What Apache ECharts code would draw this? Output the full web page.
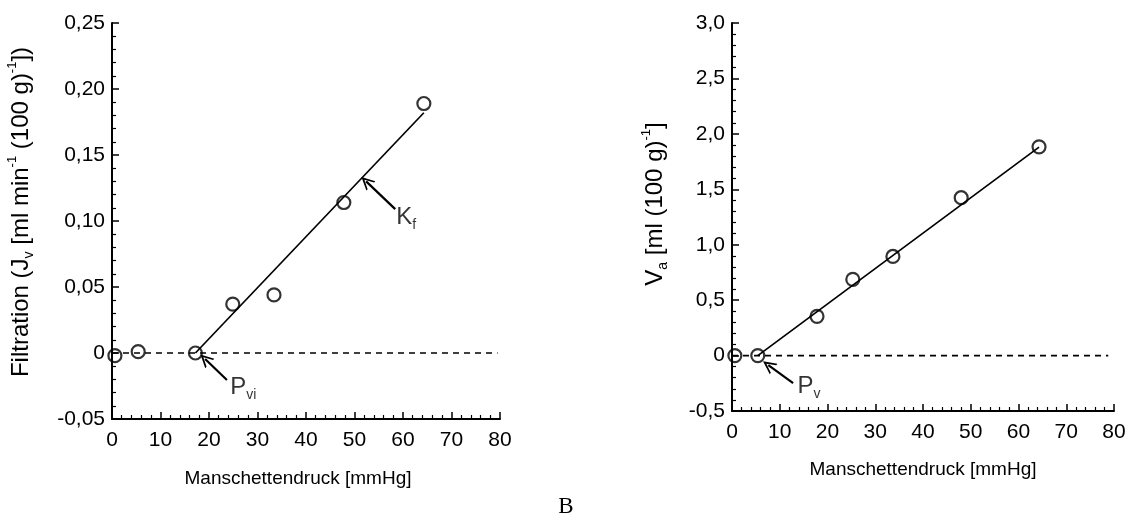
<!DOCTYPE html>
<html>
<head>
<meta charset="utf-8">
<script src="https://cdn.jsdelivr.net/npm/echarts@6/dist/echarts.min.js"></script>
<style>
html,body{margin:0;padding:0;background:#fff;}
#chart{width:1132px;height:523px;}
</style>
</head>
<body>
<div id="chart"></div>
<script>
// ---- data ----
const cuffPressureLeft  = [0.6, 5.4, 17.2, 24.9, 33.4, 47.8, 64.3];
const filtration        = [-0.002, 0.001, 0.0, 0.037, 0.044, 0.114, 0.189];
const cuffPressureRight = [0.6, 5.4, 17.8, 25.3, 33.7, 48.0, 64.3];
const volumeVa          = [0.0, 0.0, 0.354, 0.687, 0.894, 1.424, 1.883];
const fitLeftX  = [17.2, 64.3];
const fitLeftY  = [0.0, 0.182];
const fitRightX = [5.4, 64.3];
const fitRightY = [0.0, 1.88];
const zeroLeftX  = [0, 79.5];
const zeroRightX = [0, 78.8];

const xTickLabels      = ['0','10','20','30','40','50','60','70','80'];
const yTickLabelsLeft  = ['-0,05','0','0,05','0,10','0,15','0,20','0,25'];
const yTickLabelsRight = ['-0,5','0','0,5','1,0','1,5','2,0','2,5','3,0'];

// annotation arrows (tail -> tip) and labels, in data units
const arrowKf  = [[58.4, 0.109], [52.4, 0.130]];
const labelKf  = [58.6, 0.103];
const arrowPvi = [[23.7, -0.0205], [19.2, -0.0045]];
const labelPvi = [24.4, -0.026];
const arrowPv  = [[12.8, -0.248], [7.6, -0.086]];
const labelPv  = [13.7, -0.275];

const FONT = 'Liberation Sans, Arial, sans-serif';
const pairs = (xs, ys) => xs.map((x, i) => [x, ys[i]]);

function xAxisCfg(grid) {
  return {
    type: 'value', gridIndex: grid, min: 0, max: 80, interval: 10,
    axisLine: { show: true, onZero: false, lineStyle: { color: '#000', width: 2 } },
    axisTick: { show: true, inside: true, length: 7, lineStyle: { color: '#000', width: 1.5 } },
    minorTick: { show: true, splitNumber: 5, length: 4, lineStyle: { color: '#000', width: 1.2 } },
    splitLine: { show: false },
    axisLabel: { color: '#000', fontSize: 21, fontFamily: FONT, margin: 11,
      formatter: (v, i) => xTickLabels[i] }
  };
}
function yAxisCfg(grid, min, max, interval, labels) {
  return {
    type: 'value', gridIndex: grid, min: min, max: max, interval: interval,
    axisLine: { show: true, onZero: false, lineStyle: { color: '#000', width: 2 } },
    axisTick: { show: true, inside: true, length: 7, lineStyle: { color: '#000', width: 1.5 } },
    minorTick: { show: true, splitNumber: 5, length: 4, lineStyle: { color: '#000', width: 1.2 } },
    splitLine: { show: false },
    axisLabel: { color: '#000', fontSize: 21, fontFamily: FONT, margin: 7,
      formatter: (v, i) => labels[i] }
  };
}

const circleStyle = { color: 'rgba(0,0,0,0)', borderColor: '#000', borderWidth: 2.2 };
const arrowPath = 'path://M0,12 L6,0 L12,12 L10.3,12 L6,3.8 L1.7,12 Z';

function arrowSeries(xi, yi, coords) {
  return {
    type: 'lines', coordinateSystem: 'cartesian2d', xAxisIndex: xi, yAxisIndex: yi,
    symbol: ['none', arrowPath], symbolSize: 13,
    lineStyle: { color: '#000', width: 2.2, opacity: 1 },
    itemStyle: { color: '#000' },
    data: [{ coords: coords }], silent: true, z: 5
  };
}
function labelSeries(xi, yi, pos, main, sub) {
  return {
    type: 'scatter', xAxisIndex: xi, yAxisIndex: yi, symbolSize: 0, silent: true,
    data: [pos],
    label: { show: true, position: 'inside', align: 'left', verticalAlign: 'middle',
      formatter: '{m|' + main + '}{s|' + sub + '}',
      rich: {
        m: { fontSize: 24, fontFamily: FONT, color: '#000', lineHeight: 30, verticalAlign: 'middle' },
        s: { fontSize: 14, fontFamily: FONT, color: '#000', lineHeight: 13, verticalAlign: 'bottom' }
      } }
  };
}

const richName = {
  b: { fontSize: 24, fontFamily: FONT, fill: '#000', color: '#000', lineHeight: 30, verticalAlign: 'middle' },
  sb: { fontSize: 14, fontFamily: FONT, fill: '#000', color: '#000', lineHeight: 14, verticalAlign: 'bottom' },
  sp: { fontSize: 13, fontFamily: FONT, fill: '#000', color: '#000', lineHeight: 13, verticalAlign: 'top' }
};

const chart = echarts.init(document.getElementById('chart'), null, { renderer: 'canvas' });
chart.setOption({
  backgroundColor: '#fff',
  animation: false,
  grid: [
    { left: 112, top: 23, width: 388, height: 396 },
    { left: 732, top: 23, width: 382, height: 388 }
  ],
  xAxis: [xAxisCfg(0), xAxisCfg(1)],
  yAxis: [
    yAxisCfg(0, -0.05, 0.25, 0.05, yTickLabelsLeft),
    yAxisCfg(1, -0.5, 3.0, 0.5, yTickLabelsRight)
  ],
  series: [
    { type: 'line', xAxisIndex: 0, yAxisIndex: 0, data: zeroLeftX.map(x => [x, 0]), showSymbol: false,
      lineStyle: { color: '#000', width: 1.7, type: [6, 5] }, silent: true },
    { type: 'line', xAxisIndex: 0, yAxisIndex: 0, data: pairs(fitLeftX, fitLeftY), showSymbol: false,
      lineStyle: { color: '#000', width: 1.7 }, silent: true },
    { type: 'scatter', xAxisIndex: 0, yAxisIndex: 0, data: pairs(cuffPressureLeft, filtration),
      symbol: 'circle', symbolSize: 13, itemStyle: circleStyle, z: 4 },
    { type: 'line', xAxisIndex: 1, yAxisIndex: 1, data: zeroRightX.map(x => [x, 0]), showSymbol: false,
      lineStyle: { color: '#000', width: 1.7, type: [6, 5] }, silent: true },
    { type: 'line', xAxisIndex: 1, yAxisIndex: 1, data: pairs(fitRightX, fitRightY), showSymbol: false,
      lineStyle: { color: '#000', width: 1.7 }, silent: true },
    { type: 'scatter', xAxisIndex: 1, yAxisIndex: 1, data: pairs(cuffPressureRight, volumeVa),
      symbol: 'circle', symbolSize: 13, itemStyle: circleStyle, z: 4 },
    arrowSeries(0, 0, arrowKf),
    arrowSeries(0, 0, arrowPvi),
    arrowSeries(1, 1, arrowPv),
    labelSeries(0, 0, labelKf, 'K', 'f'),
    labelSeries(0, 0, labelPvi, 'P', 'vi'),
    labelSeries(1, 1, labelPv, 'P', 'v')
  ],
  graphic: [
    { type: 'text', x: 298, y: 479, silent: true,
      style: { text: 'Manschettendruck [mmHg]', font: '19px ' + FONT, fill: '#000',
        align: 'center', verticalAlign: 'middle', textAlign: 'center', textVerticalAlign: 'middle' } },
    { type: 'text', x: 923, y: 470, silent: true,
      style: { text: 'Manschettendruck [mmHg]', font: '19px ' + FONT, fill: '#000',
        align: 'center', verticalAlign: 'middle', textAlign: 'center', textVerticalAlign: 'middle' } },
    { type: 'text', x: 21, y: 212, rotation: Math.PI / 2, silent: true,
      style: { text: '{b|Filtration (J}{sb|v}{b| [ml min}{sp|-1}{b| (100 g)}{sp|-1}{b|])}',
        fill: '#000', align: 'center', verticalAlign: 'middle', textAlign: 'center', textVerticalAlign: 'middle',
        rich: richName } },
    { type: 'text', x: 655, y: 204, rotation: Math.PI / 2, silent: true,
      style: { text: '{b|V}{sb|a}{b| [ml (100 g)}{sp|-1}{b|]}',
        fill: '#000', align: 'center', verticalAlign: 'middle', textAlign: 'center', textVerticalAlign: 'middle',
        rich: richName } },
    { type: 'text', x: 566, y: 507, silent: true,
      style: { text: 'B', font: '23px Liberation Serif, Times New Roman, serif', fill: '#000',
        align: 'center', verticalAlign: 'middle', textAlign: 'center', textVerticalAlign: 'middle' } }
  ]
});
</script>
</body>
</html>
